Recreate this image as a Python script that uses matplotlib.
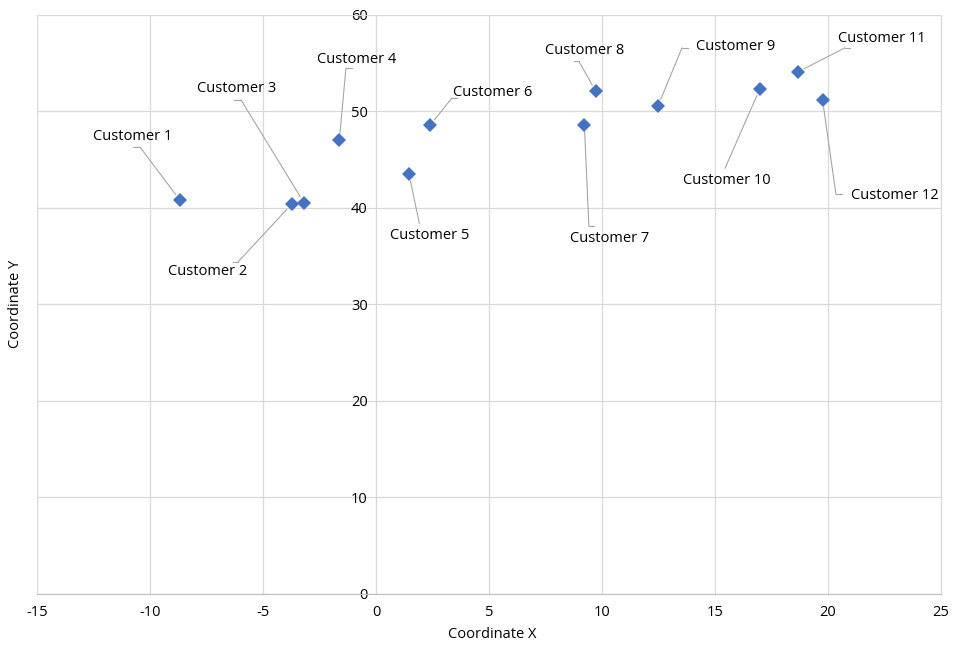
import matplotlib.pyplot as plt

plt.rcParams['font.family'] = ['Open Sans', 'DejaVu Sans']
plt.rcParams['axes.unicode_minus'] = False

customers = ['Customer 1', 'Customer 2', 'Customer 3', 'Customer 4',
             'Customer 5', 'Customer 6', 'Customer 7', 'Customer 8',
             'Customer 9', 'Customer 10', 'Customer 11', 'Customer 12']
coord_x = [-8.67, -3.73, -3.19, -1.62, 1.46, 2.39, 9.22, 9.72, 12.48, 16.98, 18.66, 19.76]
coord_y = [40.8, 40.4, 40.55, 47.05, 43.5, 48.57, 48.64, 52.1, 50.57, 52.33, 54.09, 51.16]

# where each label sits, and the leader line (stub end, elbow) next to it
label_pos = [(-10.75, 47.4), (-7.43, 33.4), (-6.15, 52.4), (-0.84, 55.4),
             (2.39, 37.1), (5.18, 52.0), (10.35, 36.8), (9.25, 56.3),
             (15.9, 56.7), (15.53, 42.9), (22.39, 57.6), (22.96, 41.25)]
leader_stub = [(-10.75, 46.3), (-6.33, 34.4), (-6.28, 51.2), (-1.06, 54.5),
               (1.92, 38.4), (3.58, 51.4), (9.65, 38.1), (8.76, 55.2),
               (13.8, 56.6), (15.44, 44.1), (20.97, 56.6), (20.62, 41.45)]
leader_elbow = [(-10.44, 46.3), (-6.11, 34.4), (-5.97, 51.2), (-1.33, 54.5),
                (1.92, 38.4), (3.36, 51.4), (9.42, 38.1), (8.98, 55.2),
                (13.54, 56.6), (15.44, 44.1), (20.75, 56.6), (20.35, 41.45)]

fig = plt.figure(figsize=(9.56, 6.46), dpi=100)
ax = fig.add_axes([0.0387, 0.0805, 0.9456, 0.8963])

grid_col = '#d9d9d9'
lead_col = '#a6a6a6'
ax.set_xlim(-15, 25)
ax.set_ylim(0, 60)
ax.set_xticks(range(-15, 26, 5))
ax.set_yticks(range(0, 61, 10))
ax.grid(True, color=grid_col, lw=0.9, zorder=0)
ax.set_axisbelow(True)

ax.spines['left'].set_position(('data', 0))
ax.spines['left'].set_color(grid_col)
ax.spines['right'].set_color(grid_col)
ax.spines['top'].set_color(grid_col)
ax.spines['bottom'].set_color('#bfbfbf')
ax.tick_params(length=0, labelsize=10.5, colors='#000000')
ax.tick_params(axis='y', pad=6)
ax.tick_params(axis='x', pad=8)

for i in range(len(customers)):
    sx, sy = leader_stub[i]
    ex, ey = leader_elbow[i]
    ax.plot([sx, ex], [sy, ey], color=lead_col, lw=0.8, zorder=2)
    ax.annotate('', xy=(coord_x[i], coord_y[i]), xytext=(ex, ey),
                arrowprops=dict(arrowstyle='-', color=lead_col, lw=0.8,
                                shrinkA=0, shrinkB=5), zorder=2)
    ax.text(label_pos[i][0], label_pos[i][1], customers[i], ha='center', va='center',
            fontsize=10.5, zorder=4)

ax.plot(coord_x, coord_y, 'D', color='#4472C4', ms=7, mew=0, zorder=3)

fig.text(492 / 956, 1 - 635 / 646, 'Coordinate X', ha='center', va='center', fontsize=10.5)
fig.text(16 / 956, 1 - 304 / 646, 'Coordinate Y', ha='center', va='center',
         rotation=90, fontsize=10.5)

fig.savefig('out.png', dpi=100)
